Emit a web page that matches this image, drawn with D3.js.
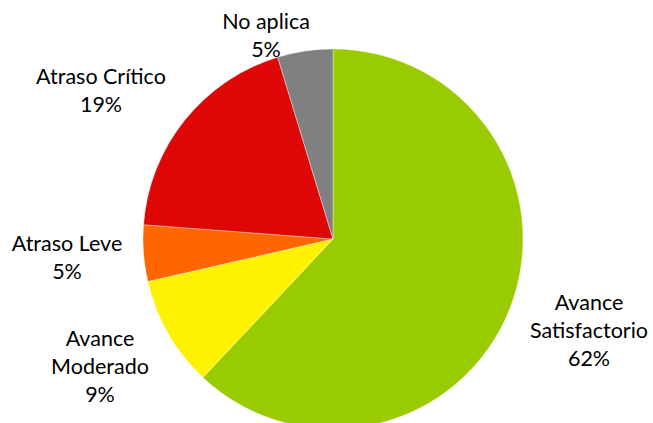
<!DOCTYPE html>
<html><head><meta charset="utf-8">
<script src="https://cdn.jsdelivr.net/npm/d3@7"></script>
<style>body{margin:0;background:#fff}svg{display:block}</style>
</head><body>
<script>
const categories = ["Avance Satisfactorio","Avance Moderado","Atraso Leve","Atraso Crítico","No aplica"];
const labelLines = [["Avance","Satisfactorio"],["Avance","Moderado"],["Atraso Leve"],["Atraso Crítico"],["No aplica"]];
const values = [62.0, 9.4, 4.8, 19.1, 4.7];
const pctLabels = ["62%","9%","5%","19%","5%"];
const colors = ["#99CC00","#FFF200","#FF6600","#DD0806","#808080"];
const labelPos = [[589,302],[100,338],[67,243],[101,76],[266,21]];

const W=653,H=423, cx=333, cy=239, R=190;
const svg = d3.select("body").append("svg").attr("width",W).attr("height",H);
const pie = d3.pie().sort(null).value(d=>d)(values);
const arc = d3.arc().innerRadius(0).outerRadius(R);
const g = svg.append("g").attr("transform",`translate(${cx},${cy})`);
g.selectAll("path").data(pie).join("path")
  .attr("d",arc).attr("fill",(d,i)=>colors[i])
  .attr("stroke","#fff").attr("stroke-width",0.6).attr("stroke-opacity",0.6);

const lh = 28;
categories.forEach((c,i)=>{
  const lines = labelLines[i].concat([pctLabels[i]]);
  const t = svg.append("text").attr("text-anchor","middle")
    .attr("font-family","Lato, 'Open Sans', sans-serif").attr("font-size",21.5).attr("fill","#000");
  lines.forEach((l,j)=>{
    t.append("tspan").attr("x",labelPos[i][0]).attr("y",labelPos[i][1]+j*lh).attr("dy","0.35em").text(l);
  });
});
</script>
</body></html>
